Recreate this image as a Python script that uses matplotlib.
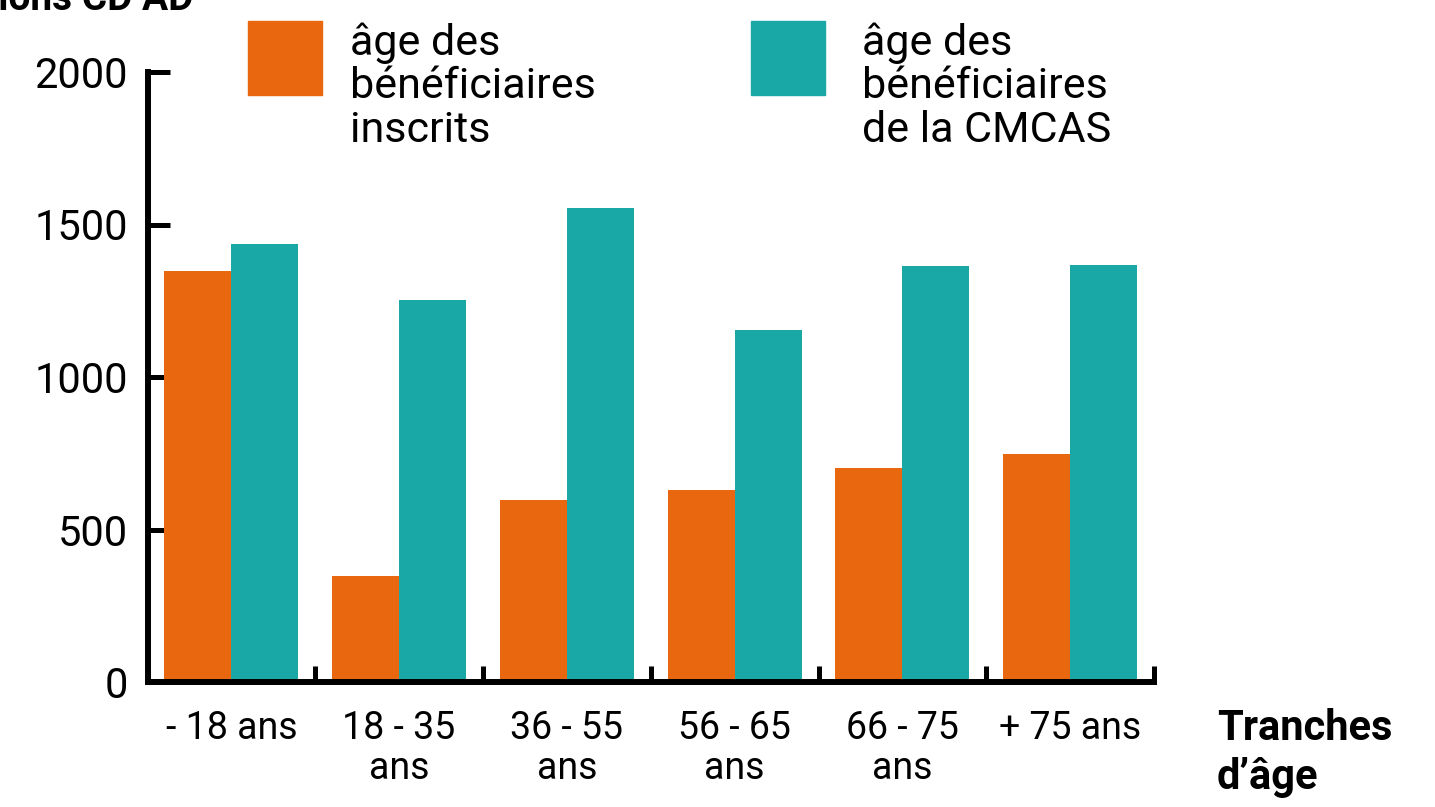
import numpy as np
import matplotlib
matplotlib.use("Agg")
import matplotlib.pyplot as plt
from matplotlib.patches import Rectangle

categories = ["- 18 ans", "18 - 35\nans", "36 - 55\nans", "56 - 65\nans", "66 - 75\nans", "+ 75 ans"]
inscrits = [1347, 347, 596, 629, 701, 747]
cmcas = [1435, 1252, 1553, 1153, 1363, 1366]
legend_labels = ["âge des\nbénéficiaires\ninscrits", "âge des\nbénéficiaires\nde la CMCAS"]
orange = "#E8670F"
teal = "#1AA8A7"

plt.rcParams["font.family"] = ["Roboto", "DejaVu Sans"]

W, H = 1435, 807
fig = plt.figure(figsize=(W / 100, H / 100), dpi=100)
ax = fig.add_axes([147.5 / W, (H - 682) / H, (1154 - 147.5) / W, (682 - 72) / H])

x = np.arange(len(categories))
w = 0.4
ax.bar(x - w / 2, inscrits, w, color=orange, zorder=2)
ax.bar(x + w / 2, cmcas, w, color=teal, zorder=2)

ax.set_xlim(-0.5, 5.5)
ax.set_ylim(0, 2000)
ax.set_axisbelow(True)

for s in ["top", "right"]:
    ax.spines[s].set_visible(False)
for s in ["left", "bottom"]:
    ax.spines[s].set_linewidth(4.3)
    ax.spines[s].set_capstyle("projecting")

ax.set_yticks([0, 500, 1000, 1500, 2000])
ax.tick_params(axis="y", direction="in", length=16, width=3.6, labelsize=30, pad=14)
ax.set_xticks(x)
ax.set_xticklabels(categories, linespacing=1.12)
ax.tick_params(axis="x", which="major", length=0, labelsize=27, pad=20)
ax.set_xticks(np.append(x[1:] - 0.5, 5.5), minor=True)
ax.tick_params(axis="x", which="minor", direction="in", length=11.5, width=3.6)

# legend drawn by hand in figure pixels
tr = fig.transFigure
for px, tx, col, lab in [(248, 350, orange, legend_labels[0]), (751, 862, teal, legend_labels[1])]:
    fig.add_artist(Rectangle((px / W, 1 - 95 / H), 74 / W, 74 / H, color=col, transform=tr))
    fig.text(tx / W, 1 - 22 / H, lab, fontsize=31, va="top", ha="left",
             linespacing=1.08)

fig.text(1217 / W, 1 - 708 / H, "Tranches\nd’âge", fontsize=30, fontweight="bold",
         va="top", ha="left", linespacing=1.25)
fig.text(193 / W, 1 - 10 / H, "Inscriptions CD AD", fontsize=28, fontweight="bold",
         va="baseline", ha="right")

fig.savefig("out.png", dpi=100)
